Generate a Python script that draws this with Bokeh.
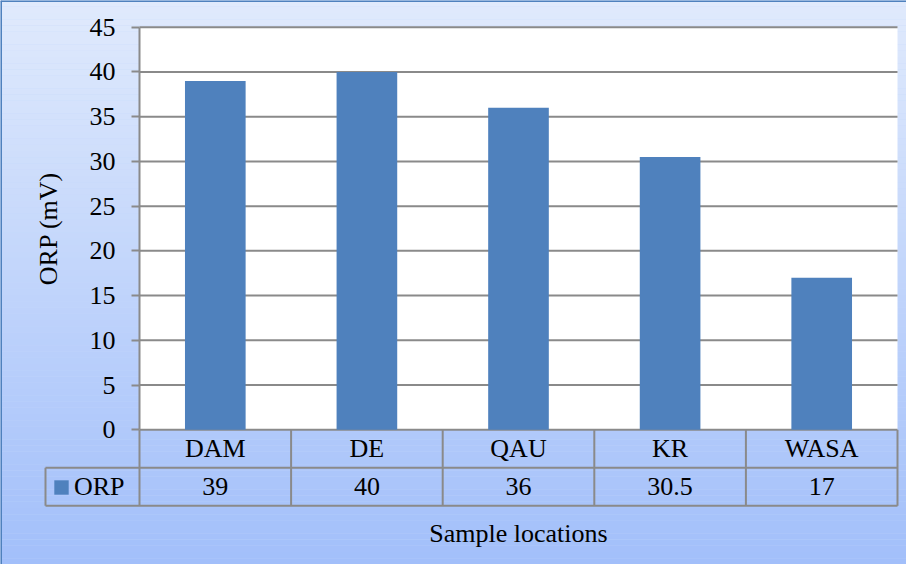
from bokeh.plotting import figure
from bokeh.models import FixedTicker, Range1d, Legend, LegendItem, Span, ColumnDataSource
from bokeh.core.properties import value
from bokeh.embed import file_html
from bokeh.resources import INLINE

# ---- data ----
categories = ["DAM", "DE", "QAU", "KR", "WASA"]
orp_values = [39, 40, 36, 30.5, 17]
value_labels = ["39", "40", "36", "30.5", "17"]
y_ticks = [0, 5, 10, 15, 20, 25, 30, 35, 40, 45]
series_name = "ORP"
y_title = "ORP (mV)"
x_title = "Sample locations"

# ---- geometry (pixels) ----
W, H = 906, 564
PLOT_LEFT = 139.0      # canvas px of category axis start
COL_W = 151.6          # px per category column
Y_ZERO = 429.3         # canvas px of value 0
Y_MAX = max(y_ticks)
PX_PER_UNIT = 402.6 / Y_MAX
ROW_H = 38.0
LEGEND_CELL_LEFT = 45.0

n = len(categories)
x_start = -PLOT_LEFT / COL_W
x_end = (W - PLOT_LEFT) / COL_W
y_end = Y_ZERO / PX_PER_UNIT
y_start = -(H - Y_ZERO) / PX_PER_UNIT
row_u = ROW_H / PX_PER_UNIT
legend_left_u = (LEGEND_CELL_LEFT - PLOT_LEFT) / COL_W

FONT = "Liberation Serif"
FS = "26px"
GRID = "#8a8a8a"
BAR = "#4f81bd"

p = figure(width=W, height=H, x_range=Range1d(x_start, x_end), y_range=Range1d(y_start, y_end),
           output_backend="svg", toolbar_location=None, x_axis_location=None,
           y_axis_location="left", min_border=0)
p.min_border_left = 0
p.min_border_right = 0
p.min_border_top = 0
p.min_border_bottom = 0
p.outline_line_color = None
p.grid.visible = False
p.background_fill_color = "#c3d6fb"
p.border_fill_color = "#c3d6fb"

# gradient background
top_c = (224, 234, 252)
bot_c = (162, 191, 250)
N = 90
step = (y_end - y_start) / N
bots, tops, cols = [], [], []
for i in range(N):
    t = (i + 0.5) / N  # 0 at bottom
    c = tuple(int(round(bot_c[k] + (top_c[k] - bot_c[k]) * t)) for k in range(3))
    bots.append(y_start + i * step)
    tops.append(y_start + (i + 1) * step + 0.001)
    cols.append("#%02x%02x%02x" % c)
p.quad(left=x_start, right=x_end, bottom=bots, top=tops, fill_color=cols, line_color=None)

# plot area
p.quad(left=[0], right=[n], bottom=[0], top=[Y_MAX], fill_color="white", line_color=None)

# gridlines
p.segment(x0=[0] * len(y_ticks), x1=[n] * len(y_ticks), y0=y_ticks, y1=y_ticks,
          line_color=GRID, line_width=2)

# bars
src = ColumnDataSource(dict(x=[i + 0.5 for i in range(n)], top=orp_values, cat=categories))
bars = p.vbar(x="x", top="top", bottom=0, width=0.4, source=src, fill_color=BAR, line_color=None)

# data table grid
r1 = -row_u
r2 = -2 * row_u
vx0 = [i for i in range(n + 1)] + [legend_left_u]
vy0 = [0] * (n + 1) + [r1]
vy1 = [r2] * (n + 1) + [r2]
p.segment(x0=vx0, x1=vx0, y0=vy0, y1=vy1, line_color=GRID, line_width=2)
p.segment(x0=[legend_left_u, legend_left_u], x1=[n, n], y0=[r1, r2], y1=[r1, r2],
          line_color=GRID, line_width=2)

# table texts
p.text(x=[i + 0.5 for i in range(n)], y=[r1 / 2] * n, text=categories,
       text_font=value(FONT), text_font_size=FS, text_align="center",
       text_baseline="middle", text_color="black")
p.text(x=[i + 0.5 for i in range(n)], y=[(r1 + r2) / 2] * n, text=value_labels,
       text_font=value(FONT), text_font_size=FS, text_align="center",
       text_baseline="middle", text_color="black")

# x title
p.text(x=[n / 2], y=[r2 - 3.1], text=[x_title], text_font=value(FONT), text_font_size=FS,
       text_align="center", text_baseline="middle", text_color="black")

# y axis
ax = p.yaxis[0]
ax.fixed_location = 0
ax.ticker = FixedTicker(ticks=y_ticks)
ax.bounds = (0, Y_MAX)
ax.major_tick_out = 8
ax.major_tick_in = 0
ax.minor_tick_out = 0
ax.minor_tick_in = 0
ax.axis_line_color = GRID
ax.axis_line_width = 2
ax.major_tick_line_color = GRID
ax.major_tick_line_width = 2
ax.major_label_text_font = FONT
ax.major_label_text_font_size = FS
ax.major_label_text_color = "black"
ax.major_label_standoff = 16
ax.axis_label = y_title
ax.axis_label_text_font = FONT
ax.axis_label_text_font_size = FS
ax.axis_label_text_font_style = "normal"
ax.axis_label_text_color = "black"
ax.axis_label_standoff = 24

# legend inside the table cell
legend = Legend(items=[LegendItem(label=series_name, renderers=[bars])], location=(52, 62),
                orientation="vertical", border_line_color=None, background_fill_alpha=0,
                padding=0, margin=0, spacing=0, glyph_width=18, glyph_height=18,
                label_standoff=4, label_text_font=FONT, label_text_font_size=FS,
                label_text_color="black")
p.add_layout(legend)

# chart border (left and top)
p.add_layout(Span(location=x_start, dimension="height", line_color="#4f81bd", line_width=3))
p.add_layout(Span(location=y_end, dimension="width", line_color="#4f81bd", line_width=3))

open("out.html", "w").write(file_html(p, INLINE))
